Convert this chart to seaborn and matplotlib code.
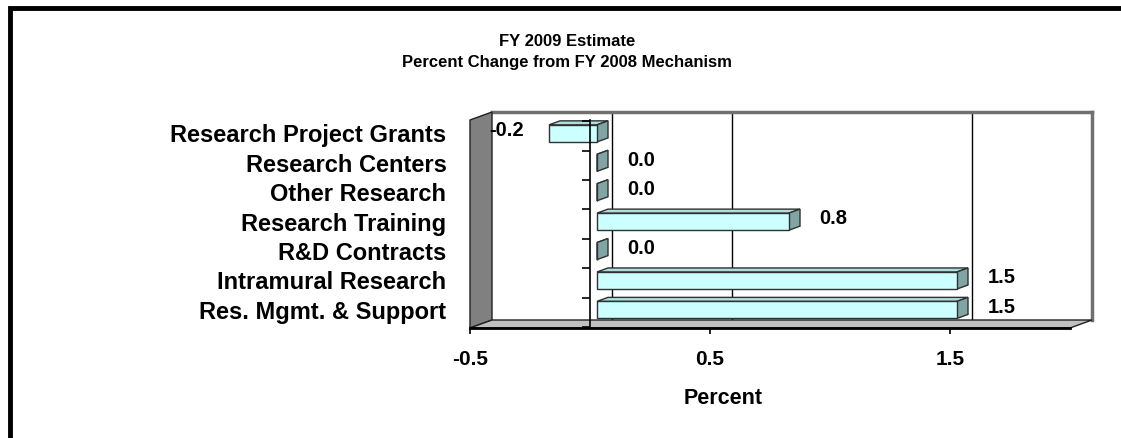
import numpy as np
import pandas as pd
import seaborn as sns
import matplotlib
matplotlib.use("Agg")
import matplotlib.pyplot as plt
from matplotlib.patches import Polygon
from matplotlib.lines import Line2D
from matplotlib.transforms import IdentityTransform
from matplotlib import font_manager

# ---- data ----
categories = ["Research Project Grants", "Research Centers", "Other Research",
              "Research Training", "R&D Contracts", "Intramural Research",
              "Res. Mgmt. & Support"]
values = [-0.2, 0.0, 0.0, 0.8, 0.0, 1.5, 1.5]
tick_values = [-0.5, 0.5, 1.5]
tick_labels = ["-0.5", "0.5", "1.5"]
grid_values = [0.0, 0.5, 1.5]
title_lines = ["FY 2009 Estimate", "Percent Change from FY 2008 Mechanism"]
x_label = "Percent"

sns.set_theme(style="white")
plt.rcParams["font.family"] = ["Liberation Sans", "DejaVu Sans"]
plt.rcParams["font.weight"] = "bold"
for k in ["text.color", "axes.labelcolor", "xtick.color", "ytick.color"]:
    plt.rcParams[k] = "black"

installed = {f.name for f in font_manager.fontManager.ttflist}
if "Liberation Sans Narrow" in installed:
    title_family, title_size = ["Liberation Sans Narrow", "DejaVu Sans"], 14
else:
    title_family, title_size = ["Liberation Sans", "DejaVu Sans"], 12

W, H, DPI = 1121, 438, 100
fig = plt.figure(figsize=(W / DPI, H / DPI), dpi=DPI)
fig.patch.set_facecolor("white")

XLIM = (-0.5, 2.0)
YLIM = (6.53, -0.54)

def rect(left, top, right, bottom):
    return [left / W, 1 - bottom / H, (right - left) / W, (bottom - top) / H]

# bar plane
bl, bt, br, bb = 477, 117.5, 1077, 325.5
# back wall plane offset, front plane offset (pixels, x right / y down)
BACK = (15, -5.5)
FRONT = (-7, 2.5)
DEPTH = (11, -4)

# ---- back wall ----
axb = fig.add_axes(rect(bl + BACK[0], bt + BACK[1], br + BACK[0], bb + BACK[1]))
axb.set_xlim(XLIM); axb.set_ylim(YLIM)
axb.set_facecolor("white")
axb.set_xticks(grid_values)
axb.set_yticks([])
axb.tick_params(axis="x", length=0, labelbottom=False)
axb.grid(True, axis="x", color="black", linewidth=1)
axb.grid(False, axis="y")
for s in ["left", "bottom"]:
    axb.spines[s].set_visible(False)
for s in ["top", "right"]:
    axb.spines[s].set_color("#707070")
    axb.spines[s].set_linewidth(2.5)

# ---- main (bar) axes ----
df = pd.DataFrame({"category": categories, "value": values})
ax = fig.add_axes(rect(bl, bt, br, bb))
sns.barplot(data=df, x="value", y="category", orient="h", ax=ax,
            color="#CCFFFF", saturation=1, width=0.58,
            edgecolor="#303030", linewidth=1, zorder=3)
ax.set_xlim(XLIM); ax.set_ylim(YLIM)
ax.set_facecolor("none")
for s in ax.spines.values():
    s.set_visible(False)
ax.set_xlabel(""); ax.set_ylabel("")
ax.set_xticks([])
ax.tick_params(axis="y", length=0, pad=22, labelsize=17, labelcolor="black")
for t in ax.get_yticklabels():
    t.set_fontweight("bold")

def disp(axis, x, y):
    return axis.transData.transform((x, y))

# side wall and floor (display coordinates derived from data limits)
fl = disp(ax, XLIM[0], YLIM[0]) + np.array([FRONT[0], -FRONT[1]])
ft = disp(ax, XLIM[0], YLIM[1]) + np.array([FRONT[0], -FRONT[1]])
bkl = disp(ax, XLIM[0], YLIM[0]) + np.array([BACK[0], -BACK[1]])
bkt = disp(ax, XLIM[0], YLIM[1]) + np.array([BACK[0], -BACK[1]])
fr = disp(ax, XLIM[1], YLIM[0]) + np.array([FRONT[0], -FRONT[1]])
bkr = disp(ax, XLIM[1], YLIM[0]) + np.array([BACK[0], -BACK[1]])
side = Polygon([fl, ft, bkt, bkl], closed=True, facecolor="#808080",
               edgecolor="#202020", linewidth=1, transform=IdentityTransform(),
               clip_on=False, zorder=1)
floor = Polygon([fl, fr, bkr, bkl], closed=True, facecolor="#C0C0C0",
                edgecolor="#202020", linewidth=1, transform=IdentityTransform(),
                clip_on=False, zorder=1)
ax.add_patch(side)
ax.add_patch(floor)

# 3D faces of bars
dx, dy = DEPTH[0], -DEPTH[1]
for p in list(ax.patches):
    if p in (side, floor):
        continue
    x0, y0 = p.get_x(), p.get_y()
    w, h = p.get_width(), p.get_height()
    xa, xb = min(x0, x0 + w), max(x0, x0 + w)
    ya, yb = y0, y0 + h  # data y (inverted axis)
    p00 = disp(ax, xa, ya); p10 = disp(ax, xb, ya)
    p01 = disp(ax, xa, yb); p11 = disp(ax, xb, yb)
    top_l, top_r = (p00, p10) if p00[1] > p01[1] else (p01, p11)
    bot_r = p11 if top_r is p10 else p10
    off = np.array([dx, dy])
    top = Polygon([top_l, top_r, top_r + off, top_l + off], closed=True,
                  facecolor="#AEDEDE", edgecolor="#303030", linewidth=1,
                  transform=IdentityTransform(), clip_on=False, zorder=2.5)
    sideface = Polygon([bot_r, top_r, top_r + off, bot_r + off], closed=True,
                       facecolor="#7FA5A5", edgecolor="#303030", linewidth=1,
                       transform=IdentityTransform(), clip_on=False, zorder=2.6)
    ax.add_patch(top)
    ax.add_patch(sideface)

# value labels
for i, v in enumerate(values):
    ax.annotate(f"{v:.1f}", (v, i), xytext=(22 if v >= 0 else -18, 2),
                textcoords="offset points", ha="left" if v >= 0 else "right",
                va="center", fontsize=14.5, fontweight="bold", color="black",
                zorder=5)

# ---- front plane axes ----
axf = fig.add_axes(rect(bl + FRONT[0], bt + FRONT[1], br + FRONT[0], bb + FRONT[1]))
axf.set_xlim(XLIM); axf.set_ylim(YLIM)
axf.set_facecolor("none")
axf.spines["top"].set_visible(False)
axf.spines["right"].set_visible(False)
axf.spines["bottom"].set_color("black")
axf.spines["bottom"].set_linewidth(2)
axf.spines["left"].set_position(("data", 0))
axf.spines["left"].set_color("black")
axf.spines["left"].set_linewidth(1.2)
axf.set_xticks(tick_values)
axf.set_xticklabels(tick_labels)
axf.set_yticks(np.arange(-0.5, len(categories), 1.0))
axf.set_yticklabels([])
axf.tick_params(axis="x", direction="out", length=4, width=1.2, color="black",
                pad=12, labelsize=15, bottom=True, labelcolor="black")
axf.tick_params(axis="y", direction="out", length=6, width=1.2, color="black",
                left=True)
for t in axf.get_xticklabels():
    t.set_fontweight("bold")
axf.set_xlabel(x_label, fontsize=15.5, fontweight="bold", color="black")
axf.xaxis.set_label_coords((723 - (bl + FRONT[0])) / (br - bl), -(398 - (bb + FRONT[1])) / (bb - bt))
axf.xaxis.label.set_va("center")

# ---- title ----
fig.text(567 / W, 1 - 42 / H, title_lines[0], ha="center", va="center",
         fontsize=title_size, fontweight="bold", color="black", family=title_family)
fig.text(567 / W, 1 - 62 / H, title_lines[1], ha="center", va="center",
         fontsize=title_size, fontweight="bold", color="black", family=title_family)

# ---- outer border (left and top) ----
fig.add_artist(Line2D([9.5 / W, 9.5 / W, 1.0], [0.0, 1 - 8 / H, 1 - 8 / H],
                      transform=fig.transFigure, color="black", linewidth=3.5,
                      solid_joinstyle="miter"))

fig.savefig("out.png", dpi=DPI)
